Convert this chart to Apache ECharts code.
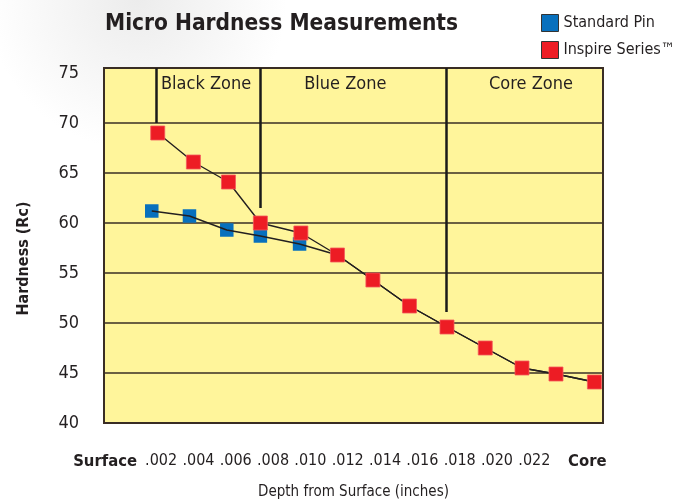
<!DOCTYPE html>
<html>
<head>
<meta charset="utf-8">
<script src="https://cdn.jsdelivr.net/npm/echarts@6/dist/echarts.min.js"></script>
<style>
  html, body { margin: 0; padding: 0; background: #fff; }
  #main { width: 686px; height: 499px; }
</style>
</head>
<body>
<div id="main"></div>
<script>
// depth in thousandths of an inch, hardness in Rc
var bluePin = [[1.5, 61.2], [3.52, 60.7], [5.52, 59.3], [7.32, 58.7], [9.42, 57.9]];
var redInspire = [[1.82, 69.0], [3.73, 66.1], [5.61, 64.1], [7.32, 60.0], [9.49, 59.0],
  [11.45, 56.8], [13.35, 54.3], [15.31, 51.7], [17.32, 49.6], [19.37, 47.5],
  [21.34, 45.5], [23.16, 44.9], [25.22, 44.1]];
var xTicks = [-1.0, 2, 4, 6, 8, 10, 12, 14, 16, 18, 20, 22, 24.84];
var xTickLabels = ['Surface', '.002', '.004', '.006', '.008', '.010', '.012', '.014', '.016', '.018', '.020', '.022', 'Core'];
// zone dividers: [depth, lower end of line]
var zoneLines = [[1.73, 70], [7.31, 61.5], [17.27, 51.1]];
var zoneNames = [['Black Zone', 4.41], ['Blue Zone', 11.87], ['Core Zone', 21.82]];

var FONT = "'DejaVu Sans Condensed', 'Liberation Sans Narrow', 'Liberation Sans', sans-serif";
var INK = '#231f20';
var RULE = '#3a2e25';

var myChart = echarts.init(document.getElementById('main'));

// blue line joins the red curve after .010
var blueLine = bluePin.concat(redInspire.slice(5));

var option = {
  backgroundColor: new echarts.graphic.RadialGradient(0.2, 0.0, 0.3, [
    { offset: 0, color: '#ececec' },
    { offset: 1, color: '#ffffff' }
  ]),
  textStyle: { fontFamily: FONT },
  title: {
    text: 'Micro Hardness Measurements',
    left: 100,
    top: 8,
    textStyle: { fontFamily: FONT, fontSize: 22.5, fontWeight: 'bold', color: INK }
  },
  legend: {
    orient: 'vertical',
    left: 536,
    top: 9,
    itemGap: 9,
    itemWidth: 17,
    itemHeight: 17,
    icon: 'rect',
    itemStyle: { borderColor: '#333', borderWidth: 1, opacity: 1 },
    textStyle: { fontFamily: FONT, fontSize: 16, color: INK },
    data: ['Standard Pin', 'Inspire Series\u2122']
  },
  grid: {
    left: 104,
    right: 83,
    top: 68,
    bottom: 76,
    outerBoundsMode: 'none',
    containLabel: false,
    show: true,
    backgroundColor: '#fff59b',
    borderColor: RULE,
    borderWidth: 2
  },
  xAxis: {
    type: 'value',
    min: -1.06,
    max: 25.68,
    name: 'Depth from Surface (inches)',
    nameLocation: 'middle',
    nameGap: 62,
    nameTextStyle: { fontFamily: FONT, fontSize: 15, color: INK },
    axisLine: { show: false },
    axisTick: { show: false },
    splitLine: { show: false },
    axisLabel: {
      customValues: xTicks,
      margin: 30,
      fontFamily: FONT,
      fontSize: 16,
      color: INK,
      formatter: function (v) {
        var i = xTicks.indexOf(v);
        if (i === 0 || i === xTicks.length - 1) return '{b|' + xTickLabels[i] + '}';
        return i >= 0 ? xTickLabels[i] : '';
      },
      rich: {
        b: { fontFamily: FONT, fontSize: 16.5, fontWeight: 'bold', color: INK }
      }
    }
  },
  yAxis: {
    type: 'value',
    min: 40,
    max: 75.5,
    interval: 5,
    name: 'Hardness (Rc)',
    nameLocation: 'middle',
    nameGap: 72,
    nameTextStyle: { fontFamily: FONT, fontSize: 16, fontWeight: 'bold', color: INK, padding: [0, 26, 0, 0] },
    axisLine: { show: false },
    axisTick: { show: false },
    splitLine: {
      // 40 ... 70 drawn, no rule at 75 (top border sits just above it)
      lineStyle: { color: [RULE, RULE, RULE, RULE, RULE, RULE, RULE, 'rgba(0,0,0,0)', RULE], width: 1.5 }
    },
    axisLabel: {
      margin: 25,
      fontFamily: FONT,
      fontSize: 18,
      color: INK,
      padding: [0, 0, 4, 0],
      formatter: function (v) { return v % 5 === 0 ? String(v) : ''; }
    }
  },
  series: [
    {
      name: 'Standard Pin line',
      type: 'line',
      data: blueLine,
      showSymbol: false,
      silent: true,
      lineStyle: { color: INK, width: 1.4 },
      markLine: {
        silent: true,
        symbol: 'none',
        label: { show: false },
        lineStyle: { color: '#1a1a1a', width: 2.5, type: 'solid' },
        data: zoneLines.map(function (z) {
          return [{ coord: [z[0], z[1]] }, { coord: [z[0], 75.5] }];
        })
      },
      markPoint: {
        silent: true,
        symbol: 'rect',
        symbolSize: 1,
        itemStyle: { color: 'rgba(0,0,0,0)' },
        label: {
          show: true,
          position: 'inside',
          fontFamily: FONT,
          fontSize: 18,
          color: INK,
          formatter: function (p) { return p.name; }
        },
        data: zoneNames.map(function (z) {
          return { name: z[0], coord: [z[1], 73.9] };
        })
      }
    },
    {
      name: 'Inspire Series\u2122',
      type: 'line',
      data: redInspire,
      symbol: 'rect',
      symbolSize: 14,
      itemStyle: { color: '#ed1c24', borderColor: '#f2585c', borderWidth: 0.8 },
      lineStyle: { color: INK, width: 1.4 }
    },
    {
      name: 'Standard Pin',
      type: 'scatter',
      data: bluePin,
      symbol: 'rect',
      symbolSize: 13.5,
      itemStyle: { color: '#0870bd', opacity: 1 }
    }
  ]
};
myChart.setOption(option);
</script>
</body>
</html>
